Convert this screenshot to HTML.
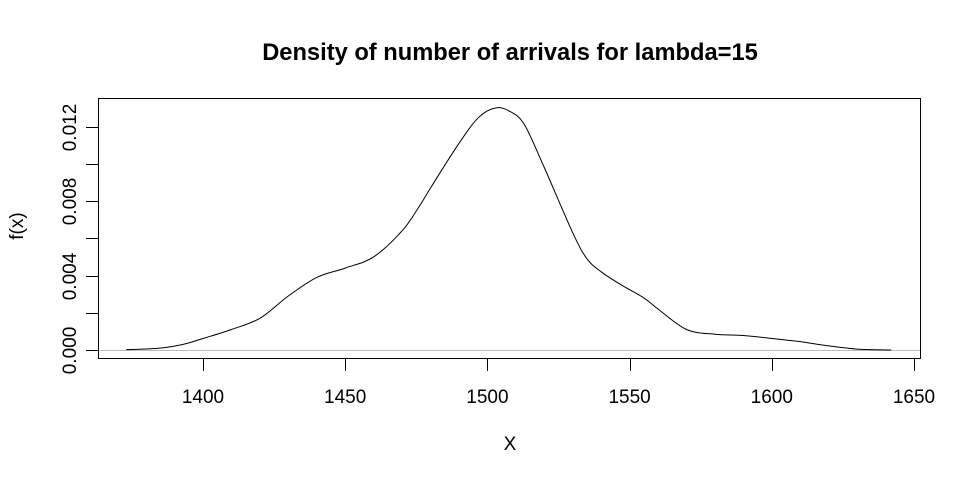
<!DOCTYPE html>
<html><head><meta charset="utf-8"><style>
body{margin:0;background:#fff;}
svg text{font-family:"Liberation Sans",Arial,sans-serif;}
</style></head><body>
<svg id="chart" width="973" height="482" xmlns="http://www.w3.org/2000/svg">
<rect width="973" height="482" fill="#fff"/>
<text x="510" y="60" text-anchor="middle" font-size="23.7" font-weight="bold">Density of number of arrivals for lambda=15</text>
<text x="510" y="450" text-anchor="middle" font-size="19">X</text>
<text transform="translate(23,226) rotate(-90)" text-anchor="middle" font-size="19">f(x)</text>
<rect x="98.5" y="98.5" width="822" height="260" fill="none" stroke="#000" stroke-width="1"/>
<g id="xaxis"></g><g id="yaxis"></g>
<line id="zero" stroke="#bbb" stroke-width="1"/>
<path id="curve" fill="none" stroke="#000" stroke-width="1"/>
</svg>
<script>
const xValues=[1373,1385,1393,1400,1410,1420,1430,1440,1450,1460,1470,1476,1480,1490,1497,1503,1508,1513,1520,1530,1535,1540,1547,1555,1560,1570,1580,1590,1600,1610,1620,1630,1642];
const densityValues=[0.00002,0.0001,0.0003,0.00062,0.0011,0.0017,0.0029,0.0039,0.0044,0.005,0.0064,0.0077,0.0087,0.0111,0.0125,0.0130,0.0128,0.0121,0.0098,0.0063,0.0049,0.0042,0.0035,0.0028,0.0022,0.0011,0.00085,0.00078,0.00062,0.00045,0.00022,0.00005,0.0];
const xTicks=[1400,1450,1500,1550,1600,1650];
const yTicks=[0,0.002,0.004,0.006,0.008,0.010,0.012];
const yLabels=["0.000","","0.004","","0.008","","0.012"];
const sx=v=>203+(v-1400)*2.844;
const sy=v=>350-v*18625;
const ns="http://www.w3.org/2000/svg";
const xa=document.getElementById('xaxis'),ya=document.getElementById('yaxis');
function mk(tag,attrs,parent){const e=document.createElementNS(ns,tag);for(const k in attrs)e.setAttribute(k,attrs[k]);parent.appendChild(e);return e;}
xTicks.forEach(t=>{
 const x=Math.round(sx(t))+0.5;
 const tk=mk('line',{x1:x,x2:x,y1:359,y2:371,stroke:'#000'},xa);
 
 
 const tx=mk('text',{x:sx(t),y:403,'text-anchor':'middle','font-size':'19'},xa);tx.textContent=t;
 
 
});
yTicks.forEach((t,i)=>{
 const y=Math.round(sy(t))+0.5;
 const tk=mk('line',{x1:86,x2:98,y1:y,y2:y,stroke:'#000'},ya);
 
 
 if(yLabels[i]){const tx=mk('text',{transform:`translate(76,${y}) rotate(-90)`,'text-anchor':'middle','font-size':'19'},ya);tx.textContent=yLabels[i];
 
 }
});
const z=document.getElementById('zero');
z.setAttribute('x1',99);z.setAttribute('x2',920);z.setAttribute('y1',sy(0)+0.5);z.setAttribute('y2',sy(0)+0.5);
const P=xValues.map((x,i)=>[sx(x),sy(densityValues[i])]);
let d='M'+P[0][0].toFixed(1)+','+P[0][1].toFixed(1);
for(let i=0;i<P.length-1;i++){
 const p0=P[Math.max(0,i-1)],p1=P[i],p2=P[i+1],p3=P[Math.min(P.length-1,i+2)];
 const c1=[p1[0]+(p2[0]-p0[0])/6,p1[1]+(p2[1]-p0[1])/6];
 const c2=[p2[0]-(p3[0]-p1[0])/6,p2[1]-(p3[1]-p1[1])/6];
 d+=` C${c1[0].toFixed(1)},${c1[1].toFixed(1)} ${c2[0].toFixed(1)},${c2[1].toFixed(1)} ${p2[0].toFixed(1)},${p2[1].toFixed(1)}`;
}
document.getElementById('curve').setAttribute('d',d);
</script>
</body></html>
